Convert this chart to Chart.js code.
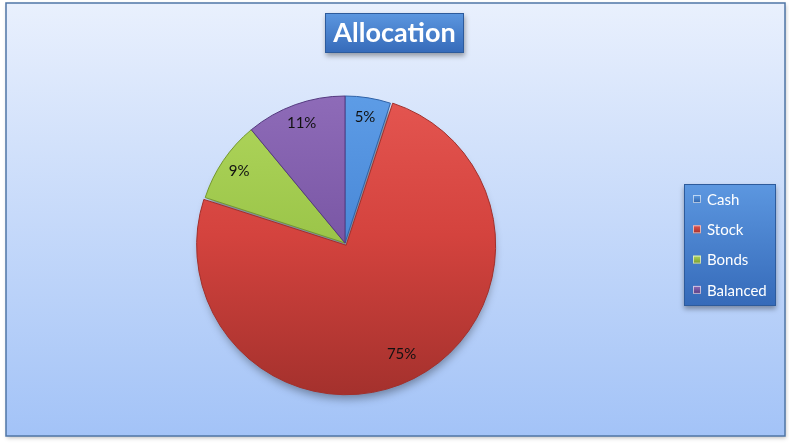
<!DOCTYPE html>
<html lang="en">
<head>
  <meta charset="UTF-8">
  <title>Allocation</title>
  <script src="https://cdn.jsdelivr.net/npm/chart.js"></script>
  <style>
    html, body {
      margin: 0;
      padding: 0;
      background: #ffffff;
    }

    #wrap {
      width: 789px;
      height: 443px;
    }
  </style>
</head>
<body>

  <div id="wrap"><canvas id="allocChart"></canvas></div>

  <script>
    // chart data
    const chartTitle = 'Allocation';
    const categories = ['Cash', 'Stock', 'Bonds', 'Balanced'];
    const shares = [5, 75, 9, 11];
    const pctLabels = ['5%', '75%', '9%', '11%'];

    // colours (light / base / dark) per slice
    const lightColors = ['#5d9ce6', '#e45550', '#b0d65c', '#8e6bb8'];
    const baseColors = ['#4a89d8', '#d4433e', '#9cc64a', '#7b58a6'];
    const darkColors = ['#2f62a8', '#a2302c', '#75992e', '#553a80'];

    const PIE_R = 147;
    const FONT = 'Lato, "Open Sans", sans-serif';

    function pieCenter(chart) {
      const a = chart.chartArea;
      return { x: (a.left + a.right) / 2, y: (a.top + a.bottom) / 2 };
    }

    function sliceFill(ctx) {
      const chart = ctx.chart;
      const i = ctx.dataIndex;
      if (!chart.chartArea) return baseColors[i];
      const c = pieCenter(chart);
      const g = chart.ctx.createLinearGradient(0, c.y - PIE_R, 0, c.y + PIE_R + 10);
      g.addColorStop(0, lightColors[i]);
      g.addColorStop(0.45, baseColors[i]);
      g.addColorStop(1, darkColors[i]);
      return g;
    }

    function boxGradient(ctx, top, bottom) {
      const g = ctx.createLinearGradient(0, top, 0, bottom);
      g.addColorStop(0, '#5c97e0');
      g.addColorStop(1, '#356ab9');
      return g;
    }

    // background frame, title box and the pie's shadow
    const framePlugin = {
      id: 'frame',
      beforeDraw(chart) {
        const ctx = chart.ctx;
        ctx.save();
        ctx.fillStyle = '#ffffff';
        ctx.fillRect(0, 0, chart.width, chart.height);

        const x0 = 6, y0 = 3, x1 = 785, y1 = 436;
        ctx.shadowColor = 'rgba(0,0,0,0.25)';
        ctx.shadowBlur = 4;
        ctx.shadowOffsetX = 1;
        ctx.shadowOffsetY = 2;
        const bg = ctx.createLinearGradient(0, y0, 0, y1);
        bg.addColorStop(0, '#e9f0fd');
        bg.addColorStop(1, '#a3c3f7');
        ctx.fillStyle = bg;
        ctx.fillRect(x0, y0, x1 - x0, y1 - y0);
        ctx.shadowColor = 'transparent';
        ctx.strokeStyle = '#4f76a6';
        ctx.lineWidth = 1.5;
        ctx.strokeRect(x0, y0, x1 - x0, y1 - y0);

        // title box
        const tx0 = 325, ty0 = 13, tx1 = 464, ty1 = 53;
        ctx.shadowColor = 'rgba(0,0,0,0.35)';
        ctx.shadowBlur = 5;
        ctx.shadowOffsetY = 3;
        ctx.fillStyle = boxGradient(ctx, ty0, ty1);
        ctx.fillRect(tx0, ty0, tx1 - tx0, ty1 - ty0);
        ctx.shadowColor = 'transparent';
        ctx.strokeStyle = '#2d5b9c';
        ctx.lineWidth = 1;
        ctx.strokeRect(tx0 + 0.5, ty0 + 0.5, tx1 - tx0 - 1, ty1 - ty0 - 1);
        ctx.fillStyle = '#ffffff';
        ctx.font = 'bold 27px ' + FONT;
        ctx.textAlign = 'center';
        ctx.textBaseline = 'middle';
        ctx.fillText(chartTitle, (tx0 + tx1) / 2, (ty0 + ty1) / 2);
        ctx.restore();
      },
      beforeDatasetsDraw(chart) {
        // shadow only: the circle is drawn off canvas, its shadow lands under the pie
        const ctx = chart.ctx;
        const c = pieCenter(chart);
        ctx.save();
        ctx.shadowColor = 'rgba(0,0,0,0.35)';
        ctx.shadowBlur = 8;
        ctx.shadowOffsetX = 3000 + 2;
        ctx.shadowOffsetY = 5;
        ctx.fillStyle = '#000';
        ctx.beginPath();
        ctx.arc(c.x - 3000, c.y + 4, PIE_R, 0, Math.PI * 2);
        ctx.fill();
        ctx.restore();
      }
    };

    // percent labels and the legend box
    const labelPlugin = {
      id: 'labels',
      afterDatasetsDraw(chart) {
        const ctx = chart.ctx;
        const meta = chart.getDatasetMeta(0);
        ctx.save();
        ctx.font = '15px ' + FONT;
        ctx.fillStyle = '#111111';
        ctx.textAlign = 'center';
        ctx.textBaseline = 'middle';
        meta.data.forEach((arc, i) => {
          const p = arc.getProps(['x', 'y', 'startAngle', 'endAngle', 'outerRadius']);
          const mid = (p.startAngle + p.endAngle) / 2;
          const off = arc.options.offset || 0;
          const frac = shares[i] > 50 ? 0.78 : 0.87;
          const r = p.outerRadius * frac + off;
          ctx.fillText(pctLabels[i], p.x + Math.cos(mid) * r, p.y + Math.sin(mid) * r);
        });
        ctx.restore();
      },
      afterDraw(chart) {
        const ctx = chart.ctx;
        const lx0 = 684, ly0 = 184, lx1 = 776, ly1 = 306;
        ctx.save();
        ctx.shadowColor = 'rgba(0,0,0,0.35)';
        ctx.shadowBlur = 5;
        ctx.shadowOffsetY = 3;
        ctx.fillStyle = boxGradient(ctx, ly0, ly1);
        ctx.fillRect(lx0, ly0, lx1 - lx0, ly1 - ly0);
        ctx.shadowColor = 'transparent';
        ctx.strokeStyle = '#2d5b9c';
        ctx.lineWidth = 1;
        ctx.strokeRect(lx0 + 0.5, ly0 + 0.5, lx1 - lx0 - 1, ly1 - ly0 - 1);

        ctx.font = '15px ' + FONT;
        ctx.textAlign = 'left';
        ctx.textBaseline = 'middle';
        categories.forEach((name, i) => {
          const y = 199 + i * 30.3;
          const g = ctx.createLinearGradient(0, y - 4, 0, y + 4);
          g.addColorStop(0, lightColors[i]);
          g.addColorStop(1, darkColors[i]);
          ctx.fillStyle = g;
          ctx.fillRect(693, y - 4, 8, 8);
          ctx.strokeStyle = 'rgba(255,255,255,0.6)';
          ctx.strokeRect(693.5, y - 3.5, 7, 7);
          ctx.fillStyle = '#ffffff';
          ctx.fillText(name, 707, y + 1);
        });
        ctx.restore();
      }
    };

    const ctxAlloc = document.getElementById('allocChart').getContext('2d');
    new Chart(ctxAlloc, {
      type: 'pie',
      data: {
        labels: categories,
        datasets: [{
          data: shares,
          backgroundColor: sliceFill,
          borderColor: darkColors,
          borderWidth: 1,
          offset: [0, 10, 0, 0]
        }]
      },
      options: {
        responsive: true,
        maintainAspectRatio: false,
        animation: false,
        radius: PIE_R,
        layout: {
          padding: { left: 20, right: 119, top: 63, bottom: 20 }
        },
        plugins: {
          legend: { display: false },
          title: { display: false },
          tooltip: { enabled: false }
        }
      },
      plugins: [framePlugin, labelPlugin]
    });
  </script>
</body>
</html>
